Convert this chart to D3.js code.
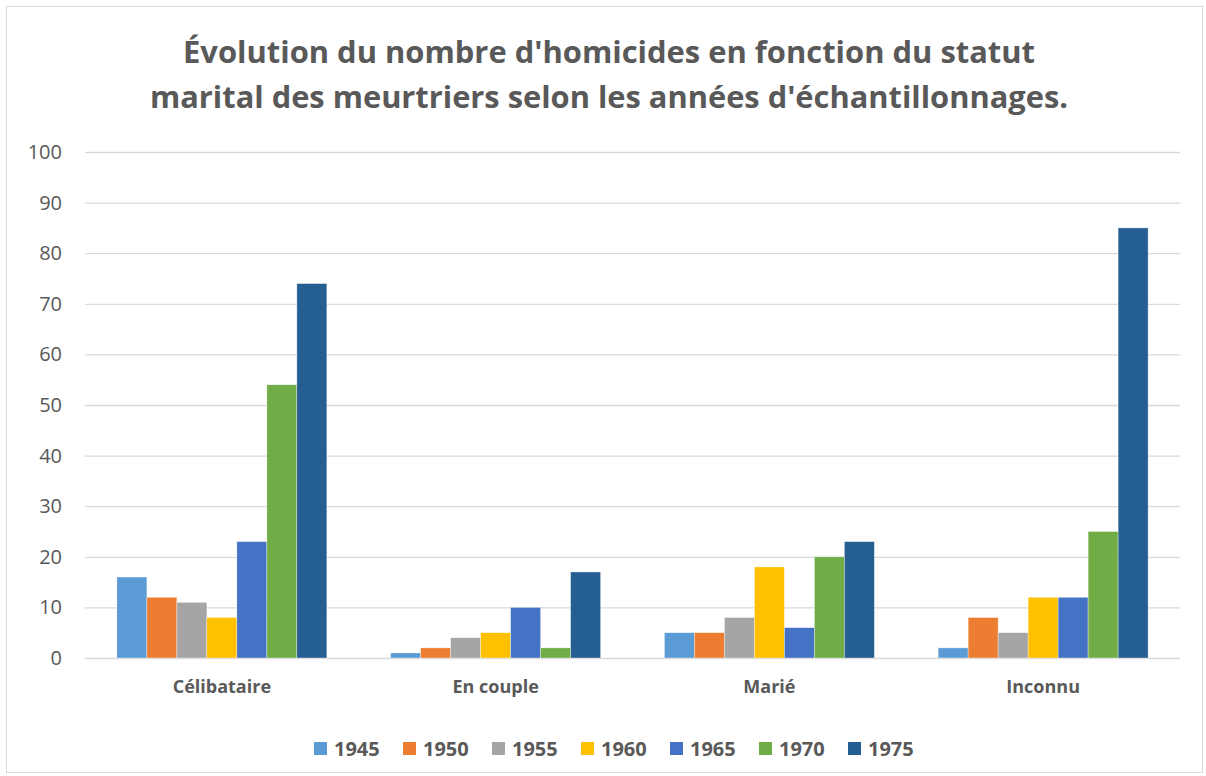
<!DOCTYPE html>
<html><head><meta charset="utf-8">
<script src="https://cdn.jsdelivr.net/npm/d3@7"></script>
<style>html,body{margin:0;padding:0;background:#fff;}</style>
</head><body>
<svg id="c" width="1206" height="776"></svg>
<script>
const categories = ["Célibataire", "En couple", "Marié", "Inconnu"];
const years = ["1945", "1950", "1955", "1960", "1965", "1970", "1975"];
const v1945 = [16, 1, 5, 2];
const v1950 = [12, 2, 5, 8];
const v1955 = [11, 4, 8, 5];
const v1960 = [8, 5, 18, 12];
const v1965 = [23, 10, 6, 12];
const v1970 = [54, 2, 20, 25];
const v1975 = [74, 17, 23, 85];
const yTicks = [0, 10, 20, 30, 40, 50, 60, 70, 80, 90, 100];
const colors = ["#5B9BD5", "#ED7D31", "#A5A5A5", "#FFC000", "#4472C4", "#70AD47", "#255E91"];
const titleLines = ["Évolution du nombre d'homicides en fonction du statut", "marital des meurtriers selon les années d'échantillonnages."];

const series = [v1945, v1950, v1955, v1960, v1965, v1970, v1975];
const svg = d3.select("#c");
const font = "'Open Sans', 'Noto Sans', sans-serif";
const textCol = "#595959";

svg.append("rect").attr("x", 6.5).attr("y", 6.5).attr("width", 1196).attr("height", 766)
  .attr("fill", "#fff").attr("stroke", "#d9d9d9").attr("stroke-width", 1);

const pLeft = 85, pRight = 1180, pTop = 152, pBottom = 658;
const x0 = d3.scaleBand().domain(categories).range([pLeft, pRight]).paddingInner(0.233).paddingOuter(0.1165);
const x1 = d3.scaleBand().domain(years).range([0, x0.bandwidth()]);
const y = d3.scaleLinear().domain([0, 100]).range([pBottom, pTop]);

// gridlines
const yAxis = d3.axisLeft(y).tickValues(yTicks).tickSize(-(pRight - pLeft)).tickPadding(23);
const gy = svg.append("g").attr("transform", `translate(${pLeft},0)`).call(yAxis);
gy.select(".domain").remove();
gy.selectAll(".tick line").attr("stroke", "#d9d9d9").attr("stroke-width", 1.3);
gy.selectAll(".tick text").attr("fill", textCol).style("font-family", font).style("font-size", "20px");

// bars
const groups = svg.append("g").selectAll("g").data(categories).join("g")
  .attr("transform", d => `translate(${x0(d)},0)`);
groups.selectAll("rect").data((c, ci) => years.map((yr, si) => ({yr, si, v: series[si][ci]})))
  .join("rect")
  .attr("x", d => x1(d.yr))
  .attr("width", x1.bandwidth())
  .attr("y", d => y(d.v))
  .attr("height", d => y(0) - y(d.v))
  .attr("fill", d => colors[d.si])
  .attr("stroke", "#ffffff").attr("stroke-width", 0.6).attr("stroke-opacity", 0.6);

// x axis labels
const xAxis = d3.axisBottom(x0).tickSize(0).tickPadding(22);
const gx = svg.append("g").attr("transform", `translate(0,${pBottom})`).call(xAxis);
gx.select(".domain").remove();
gx.selectAll(".tick text").attr("fill", textCol).style("font-family", font)
  .style("font-size", "18px").style("font-weight", "bold");

// title
svg.append("text").attr("x", 609).attr("y", 63).attr("text-anchor", "middle")
  .attr("fill", textCol).style("font-family", font).style("font-size", "31px").style("font-weight", "bold")
  .attr("textLength", 852).attr("lengthAdjust", "spacingAndGlyphs").text(titleLines[0]);
svg.append("text").attr("x", 609).attr("y", 108).attr("text-anchor", "middle")
  .attr("fill", textCol).style("font-family", font).style("font-size", "31px").style("font-weight", "bold")
  .attr("textLength", 918).attr("lengthAdjust", "spacingAndGlyphs").text(titleLines[1]);

// legend
const lg = svg.append("g").attr("transform", "translate(314,742)");
const item = lg.selectAll("g").data(years).join("g").attr("transform", (d, i) => `translate(${i * 89},0)`);
item.append("rect").attr("width", 13).attr("height", 13).attr("fill", (d, i) => colors[i]);
item.append("text").attr("x", 20).attr("y", 14).attr("fill", textCol).style("font-family", font)
  .style("font-size", "20px").style("font-weight", "bold").text(d => d);
</script>
</body></html>
